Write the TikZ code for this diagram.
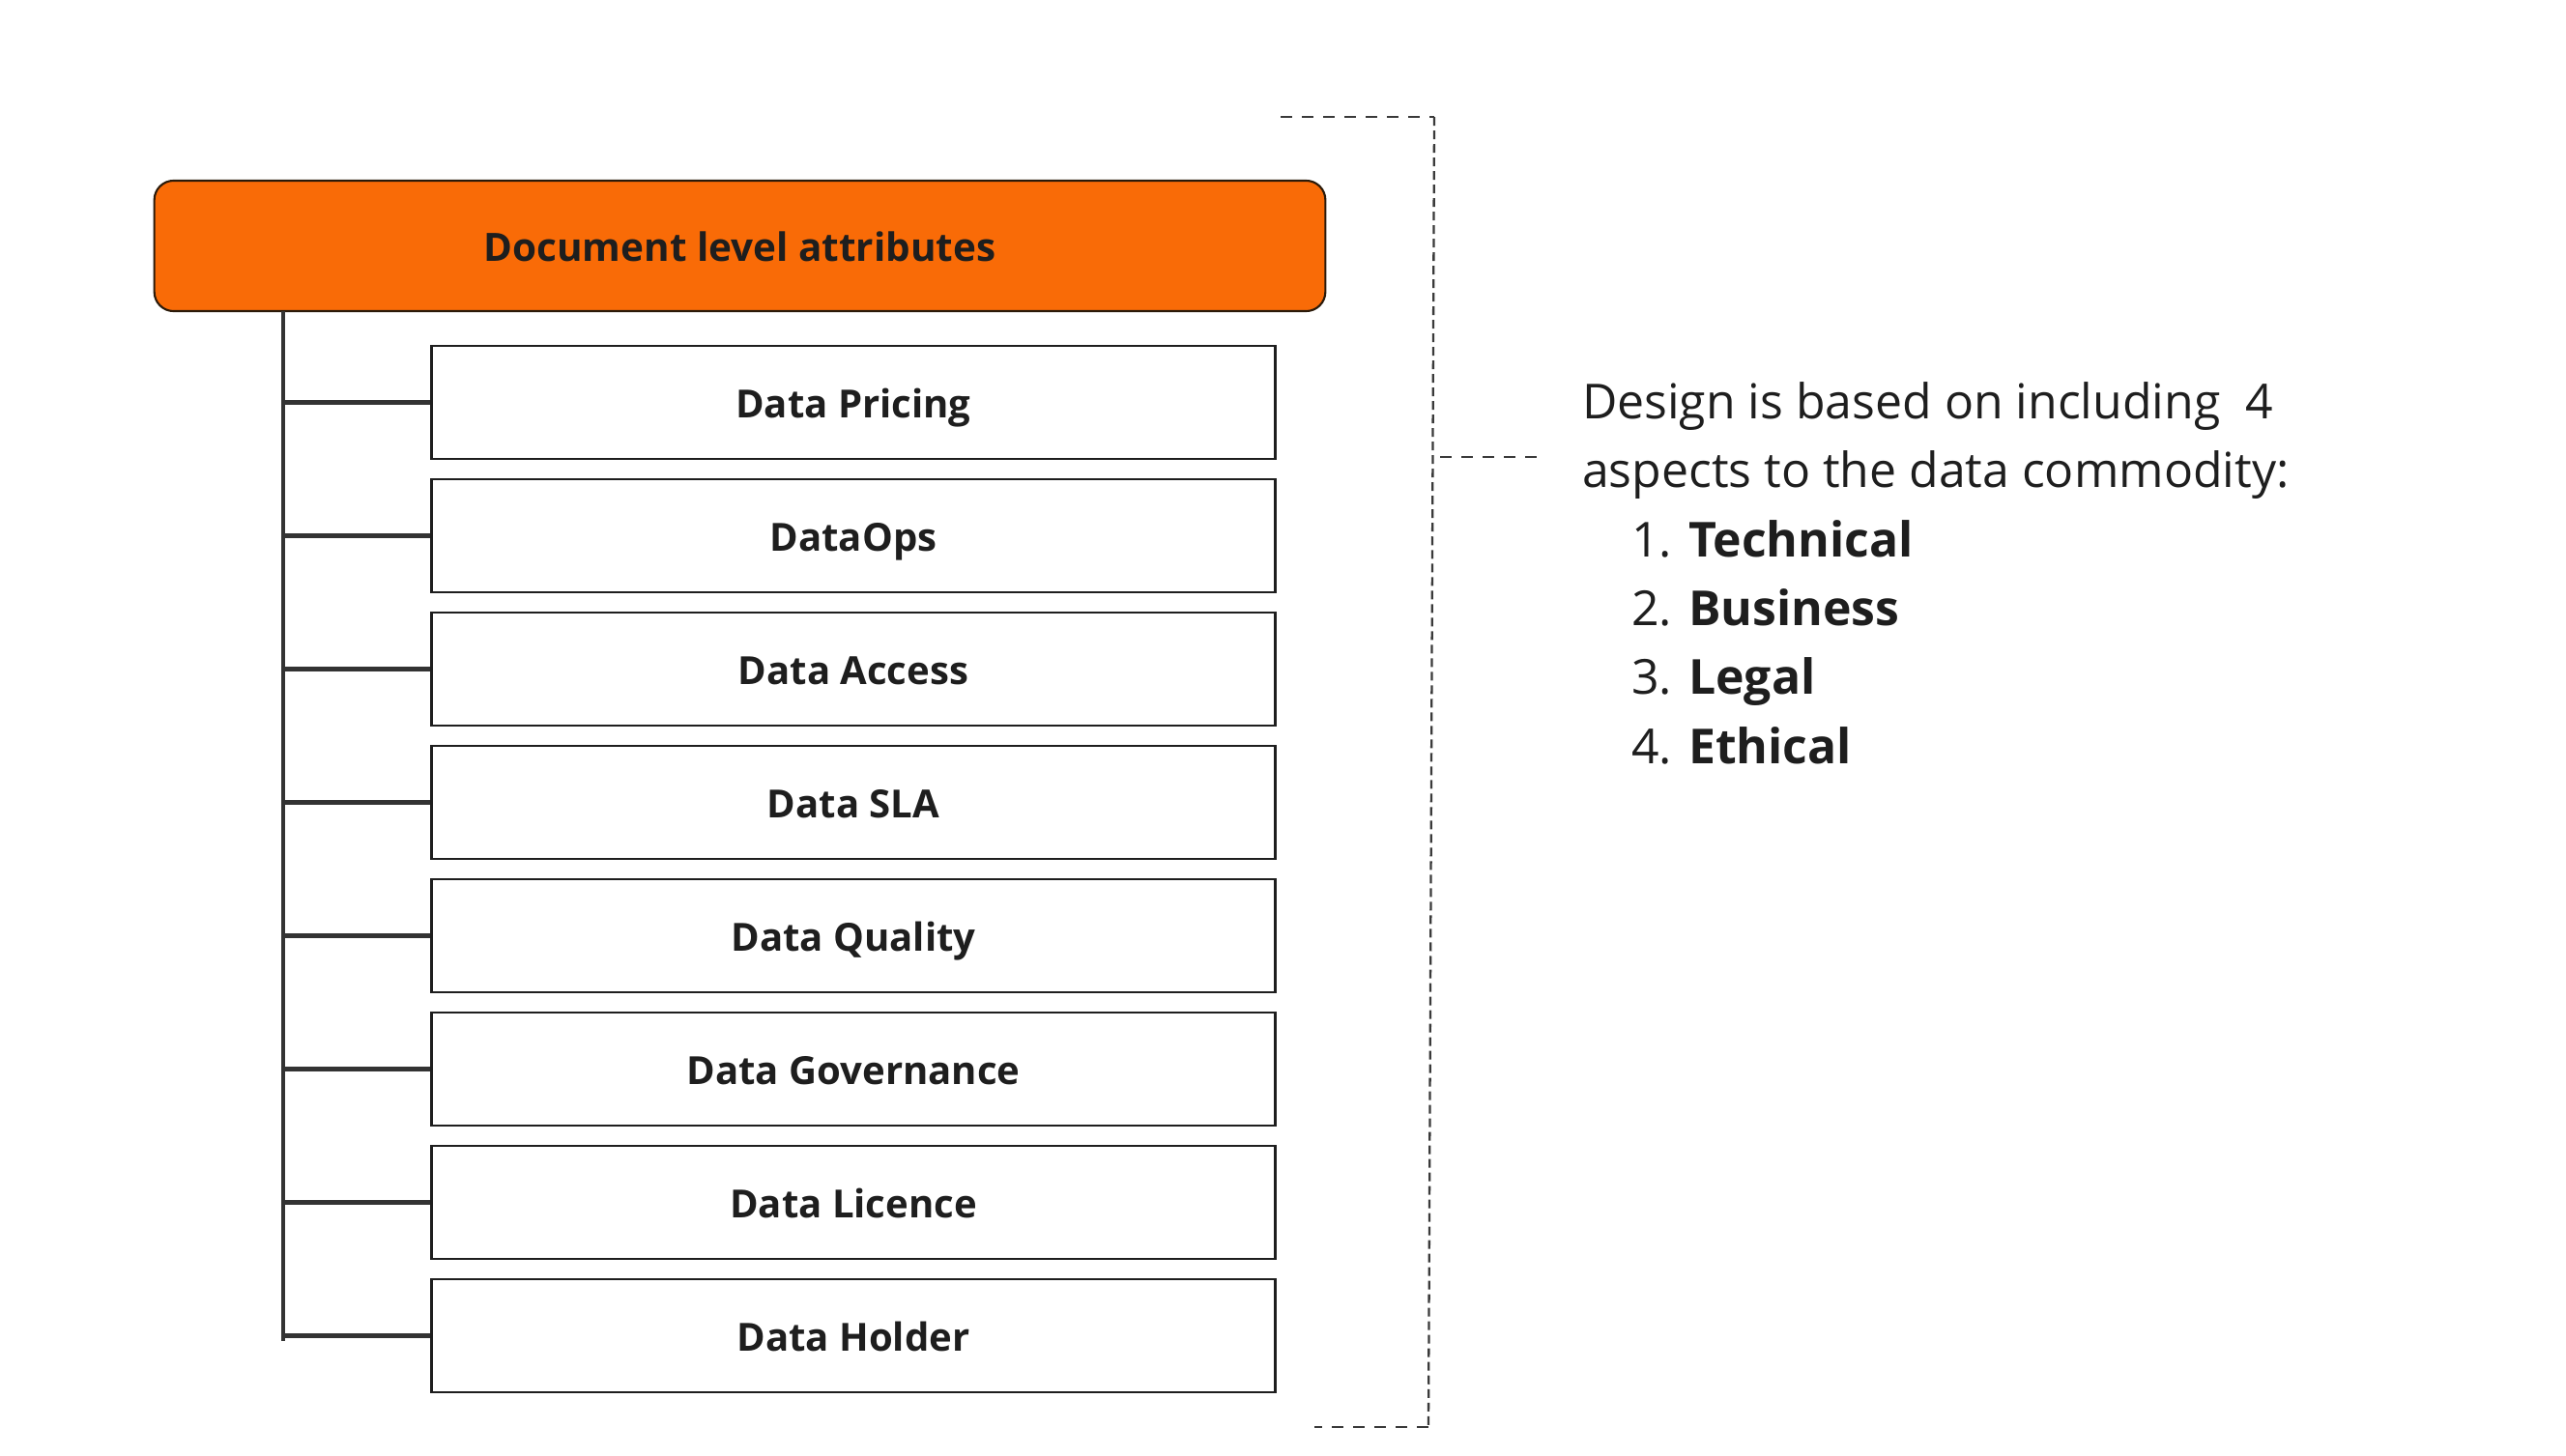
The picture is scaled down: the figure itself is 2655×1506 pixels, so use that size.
\documentclass[tikz,border=0pt]{standalone}
\usepackage{fontspec}
\setmainfont{Open Sans}
\definecolor{headorange}{HTML}{F96B07}
\definecolor{headline}{HTML}{2A1A0A}
\definecolor{boxline}{HTML}{1E1E1E}
\definecolor{treeline}{HTML}{333333}
\definecolor{dashline}{HTML}{3A3A3A}
\begin{document}
\begin{tikzpicture}[x=0.01cm,y=-0.01cm,
  headbox/.style={draw=headline, line width=0.6pt, fill=headorange, rounded corners=0.2cm,
    minimum width=12.11cm, minimum height=1.35cm, inner sep=0pt,
    text height=0.9em, text depth=0em,
    font=\fontsize{11.5pt}{14pt}\selectfont\bfseries, text=boxline},
  itembox/.style={draw=boxline, line width=0.75pt, fill=white,
    minimum width=8.72cm, minimum height=1.17cm, inner sep=0pt,
    text height=0.9em, text depth=0em,
    font=\fontsize{11.4pt}{14pt}\selectfont\bfseries, text=boxline},
  treelink/.style={draw=treeline, line width=1.4pt},
  hdash/.style={draw=dashline, line width=0.55pt, dash pattern=on 0.12cm off 0.1cm},
  vdash/.style={draw=dashline, line width=0.65pt, dash pattern=on 0.09cm off 0.05cm},
  note/.style={anchor=base west, inner sep=0pt, outer sep=0pt, text=boxline,
    font=\fontsize{14.2pt}{20pt}\selectfont}
]
\useasboundingbox (0,0) rectangle (2655,1506);

% header
\node[headbox] (head) at (765.5,254.5) {Document level attributes};

% item boxes
\foreach \name/\txt [count=\i from 0] in
  {b1/Data Pricing, b2/DataOps, b3/Data Access, b4/Data SLA,
   b5/Data Quality, b6/Data Governance, b7/Data Licence, b8/Data Holder}
{
  \node[itembox] (\name) at (883, 416.5+138*\i) {\txt};
}

% tree
\coordinate (trunktop) at (293,322);
\coordinate (trunkbot) at (293,1388);
\draw[treelink] (trunktop) -- (trunkbot);
\foreach \name in {b1,b2,b3,b4,b5,b6,b7,b8}
  \draw[treelink] (trunktop |- \name.west) -- (\name.west);

% dashed bracket
\coordinate (bt1) at (1325,121);
\coordinate (bt2) at (1484,121);
\coordinate (bb2) at (1478,1477);
\coordinate (bb1) at (1360,1477);
\coordinate (bm1) at (1490,473);
\coordinate (bm2) at (1597,473);
\draw[hdash] (bt1) -- (bt2);
\draw[vdash] (bt2) -- (bb2);
\draw[hdash] (bb2) -- (bb1);
\draw[hdash] (bm1) -- (bm2);

% note text
\node[note] (n1) at (1637,433) {Design is based on including\ \ 4};
\node[note] (n2) at (1637,504) {aspects to the data commodity:};
\node[note] (l1) at (1688,576) {1. \textbf{Technical}};
\node[note] (l2) at (1688,647) {2. \textbf{Business}};
\node[note] (l3) at (1688,718) {3. \textbf{Legal}};
\node[note] (l4) at (1688,790) {4. \textbf{Ethical}};
\end{tikzpicture}
\end{document}
